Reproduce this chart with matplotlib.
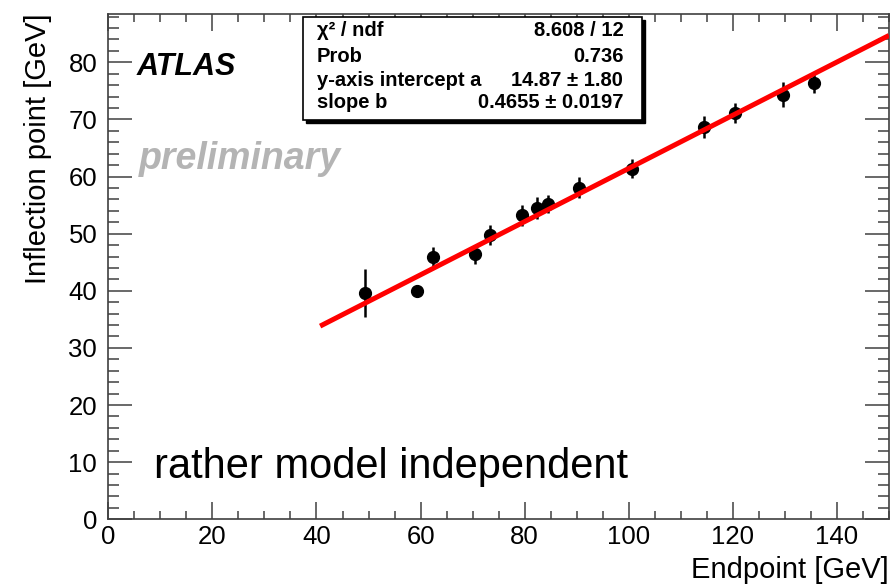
import numpy as np
import matplotlib
matplotlib.use("Agg")
import matplotlib.pyplot as plt
from matplotlib.patches import Rectangle
from matplotlib.ticker import MultipleLocator

plt.rcParams["font.family"] = ["Liberation Sans", "DejaVu Sans"]

# Data
endpoint = [49.3, 59.4, 62.4, 70.45, 73.3, 79.4, 82.4, 84.4, 90.4, 100.6, 114.4, 120.5, 129.6, 135.6]
inflection = [39.6, 40.0, 46.0, 46.4, 49.8, 53.2, 54.5, 55.2, 58.05, 61.4, 68.7, 71.1, 74.3, 76.3]
inflection_err = [4.2, 1.0, 1.6, 1.7, 1.75, 1.8, 1.9, 1.6, 1.8, 1.6, 1.9, 1.7, 2.2, 1.6]

# Linear fit result shown in the stats box
fit_a = 14.87
fit_b = 0.4655
fit_range = [40.7, 150.0]

stat_labels = ["\u03c7\u00b2 / ndf", "Prob", "y-axis intercept a", "slope b"]
stat_values = ["8.608 / 12", "0.736", "14.87 \u00b1 1.80", "0.4655 \u00b1 0.0197"]

W, H = 891, 585
fig = plt.figure(figsize=(W / 100, H / 100), dpi=100)
ax = fig.add_axes([108.3 / W, 1 - 519.3 / H, 780.7 / W, 505.6 / H])

ax.errorbar(endpoint, inflection, yerr=inflection_err, fmt="o", color="black",
            markersize=8.5, elinewidth=1.8, capsize=0, zorder=3)

fx = np.linspace(fit_range[0], fit_range[1], 50)
ax.plot(fx, fit_a + fit_b * fx, color="#ff0000", linewidth=3.6, zorder=4,
        solid_capstyle="butt")

ax.set_xlim(0, 150)
ax.set_ylim(0, 88.5)
ax.xaxis.set_major_locator(MultipleLocator(20))
ax.xaxis.set_minor_locator(MultipleLocator(5))
ax.yaxis.set_major_locator(MultipleLocator(10))
ax.yaxis.set_minor_locator(MultipleLocator(2))

for s in ax.spines.values():
    s.set_color("0.25")
    s.set_linewidth(1.2)

ax.tick_params(which="both", direction="in", top=True, right=True, color="0.25", width=1.1)
ax.tick_params(axis="x", which="major", length=12, pad=4, labelsize=18.5)
ax.tick_params(axis="x", which="minor", length=6)
ax.tick_params(axis="y", which="major", length=17, pad=8, labelsize=18.5)
ax.tick_params(axis="y", which="minor", length=8)

ax.set_xlabel("Endpoint [GeV]", fontsize=21, loc="right", labelpad=5)
ax.set_ylabel("Inflection point [GeV]", fontsize=21, loc="top", labelpad=12)

ax.text(137 / W, 1 - 67 / H, "ATLAS", transform=fig.transFigure, fontsize=22,
        fontweight="bold", fontstyle="italic", va="center", ha="left")
ax.text(139 / W, 1 - 159 / H, "preliminary", transform=fig.transFigure, fontsize=27,
        fontweight="bold", fontstyle="italic", color="#b4b4b4", va="center", ha="left")
ax.text(154 / W, 1 - 467 / H, "rather model independent", transform=fig.transFigure,
        fontsize=30, va="center", ha="left")

# stats box with shadow
bx0, bx1, by0, by1 = 303.3, 642.3, 16.7, 120.0
shadow = Rectangle(((bx0 + 3) / W, 1 - (by1 + 3) / H), (bx1 - bx0) / W, (by1 - by0) / H,
                   transform=fig.transFigure, facecolor="black", edgecolor="black", zorder=5)
box = Rectangle((bx0 / W, 1 - by1 / H), (bx1 - bx0) / W, (by1 - by0) / H,
                transform=fig.transFigure, facecolor="white", edgecolor="black",
                linewidth=1.2, zorder=6)
fig.patches.extend([shadow, box])
rows_y = [30, 56.7, 80, 103]
for lab, val, ry in zip(stat_labels, stat_values, rows_y):
    fig.text(316.7 / W, 1 - ry / H, lab, fontsize=14.5, fontweight="bold",
             va="center", ha="left", zorder=7)
    fig.text(623.3 / W, 1 - ry / H, val, fontsize=14.5, fontweight="bold",
             va="center", ha="right", zorder=7)

fig.savefig("out.png", dpi=100)
